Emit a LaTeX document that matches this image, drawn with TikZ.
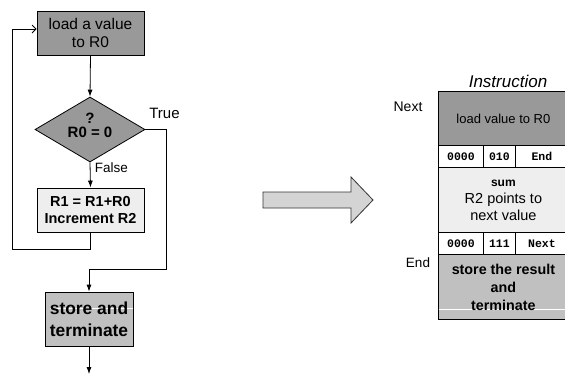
\documentclass[tikz,border=0pt]{standalone}
\usepackage{fontspec}
\setmainfont{Liberation Sans}
\setmonofont{Liberation Mono}
\usetikzlibrary{shapes.geometric,arrows.meta}
\definecolor{dgray}{HTML}{999999}
\definecolor{lgray}{HTML}{EEEEEE}
\definecolor{mgray}{HTML}{C0C0C0}
\definecolor{agray}{HTML}{D4D4D4}
\begin{document}
\begin{tikzpicture}[x=1pt,y=-1pt,
  box/.style={draw=black, line width=0.8pt, inner sep=0pt, align=center},
  cell/.style={draw=black, line width=0.8pt, inner sep=0pt, fill=white, minimum height=22pt, anchor=north west, font=\ttfamily\bfseries\fontsize{11.5}{13}\selectfont},
  flow/.style={-{Latex[length=7pt,width=5pt]}, line width=0.8pt},
  loopflow/.style={-{Straight Barb[length=4pt,width=8pt]}, line width=0.8pt},
  lbl/.style={inner sep=0pt},
  streak/.style={path picture={\draw[white, line width=0.8pt]
      ([xshift=#1, yshift=\streakshift]path picture bounding box.west) --
      ([yshift=\streakshift]path picture bounding box.east);}}]
\useasboundingbox (0,0) rectangle (565,375);

% ---- flowchart ----
\node[box, fill=dgray, minimum width=107pt, minimum height=44pt,
      font=\fontsize{15.5}{18}\selectfont] (load) at (90.5,33) {load a value\\to R0};
\node[diamond, draw=black, line width=0.8pt, fill=dgray, minimum width=110pt, minimum height=65pt, inner sep=0pt] (cond) at (90,129.5) {};
\node[lbl, align=center, font=\bfseries\fontsize{15}{14.5}\selectfont] (condtxt) at (90,125.5) {?\\R0 = 0};
\node[box, fill=lgray, minimum width=107pt, minimum height=44pt,
      font=\bfseries\fontsize{14.5}{17}\selectfont] (incr) at (90.5,210) {R1 = R1+R0\\Increment R2};
\def\streakshift{11pt}
\node[box, fill=mgray, minimum width=88pt, minimum height=54pt, streak=5pt,
      font=\bfseries\fontsize{17.4}{22}\selectfont] (store) at (89,319) {store and\\terminate};

\node[lbl, font=\fontsize{15}{18}\selectfont] (truel) at (164.5,113) {True};
\node[lbl, font=\fontsize{13.5}{16}\selectfont] (falsel) at (111.5,168) {False};

\coordinate (t1) at (166,269);
\coordinate (l1) at (12,249);
\coordinate (out) at (89,374);

\draw[flow] (load.south) -- (cond.north);
\draw[flow] (cond.south) -- (incr.north);
\draw[flow] (cond.east) -| (t1) -| (store.north);
\draw[loopflow] (incr.south) |- (l1) |- ([yshift=4pt]load.west);
\draw[flow] (store.south) -- (out);

% ---- big arrow ----
\draw[fill=agray, line width=0.8pt, draw=black!80]
  (263,192) -- (351,192) -- (351,177) -- (373,200) -- (351,223) -- (351,208) -- (263,208) -- cycle;

% ---- instruction panel ----
\node[lbl, font=\itshape\fontsize{17}{20}\selectfont] (instr) at (508,81) {Instruction};
\node[lbl, font=\fontsize{14}{16}\selectfont] (nextl) at (408,107) {Next};
\node[lbl, font=\fontsize{13.5}{16}\selectfont] (endl) at (418,263) {End};

\node[box, fill=dgray, minimum width=130pt, minimum height=54pt, anchor=north west,
      font=\fontsize{13}{16}\selectfont] (i1) at (438,91) {load value to R0};
\node[cell, minimum width=45pt] (c11) at (438,145) {0000};
\node[cell, minimum width=32pt] (c12) at (483,145) {010};
\node[cell, minimum width=53pt] (c13) at (515,145) {End};
\node[box, fill=lgray, minimum width=130pt, minimum height=65pt, anchor=north west,
      font=\fontsize{14.5}{17}\selectfont] (i2) at (438,167) {{\bfseries\fontsize{12}{17}\selectfont sum}\\R2 points to\\next value};
\node[cell, minimum width=45pt] (c21) at (438,232) {0000};
\node[cell, minimum width=32pt] (c22) at (483,232) {111};
\node[cell, minimum width=53pt] (c23) at (515,232) {Next};
\node[box, fill=mgray, minimum width=130pt, minimum height=65pt, anchor=north west,
      streak=0.8pt, /utils/exec={\def\streakshift{-22.5pt}},
      font=\bfseries\fontsize{14.3}{18}\selectfont] (i3) at (438,254) {store the result\\and\\terminate};
\end{tikzpicture}
\end{document}
